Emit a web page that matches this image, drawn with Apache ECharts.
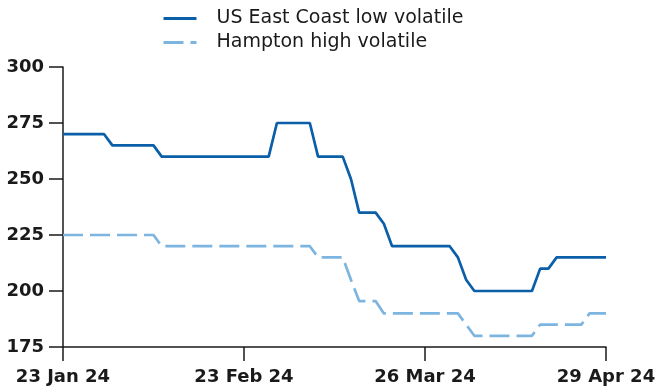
<!DOCTYPE html>
<html>
<head>
    <meta charset="UTF-8">
    <script src="https://cdn.jsdelivr.net/npm/echarts@6/dist/echarts.min.js"></script>
    <style>
        body { margin: 0; background: #fff; }
        #chart { width: 655px; height: 387px; }
    </style>
</head>
<body>
<div id="chart"></div>
<script>
    // trading days (some holidays missing)
    const dates = [
        '23 Jan 24', '24 Jan 24', '25 Jan 24', '26 Jan 24', '29 Jan 24', '30 Jan 24', '31 Jan 24',
        '1 Feb 24', '2 Feb 24', '5 Feb 24', '6 Feb 24', '7 Feb 24', '8 Feb 24', '9 Feb 24',
        '12 Feb 24', '13 Feb 24', '14 Feb 24', '15 Feb 24', '16 Feb 24',
        '20 Feb 24', '21 Feb 24', '22 Feb 24', '23 Feb 24',
        '26 Feb 24', '27 Feb 24', '28 Feb 24', '29 Feb 24', '1 Mar 24',
        '4 Mar 24', '5 Mar 24', '6 Mar 24', '7 Mar 24', '8 Mar 24',
        '11 Mar 24', '12 Mar 24', '13 Mar 24', '14 Mar 24', '15 Mar 24',
        '18 Mar 24', '19 Mar 24', '20 Mar 24', '21 Mar 24', '22 Mar 24',
        '25 Mar 24', '26 Mar 24', '27 Mar 24', '28 Mar 24',
        '2 Apr 24', '3 Apr 24', '4 Apr 24', '5 Apr 24',
        '8 Apr 24', '9 Apr 24', '10 Apr 24', '11 Apr 24', '12 Apr 24',
        '15 Apr 24', '16 Apr 24', '17 Apr 24', '18 Apr 24', '19 Apr 24',
        '22 Apr 24', '23 Apr 24', '24 Apr 24', '25 Apr 24', '26 Apr 24',
        '29 Apr 24'
    ];

    const usEastCoast = [
        270, 270, 270, 270, 270, 270,
        265, 265, 265, 265, 265, 265,
        260, 260, 260, 260, 260, 260, 260, 260, 260, 260, 260, 260, 260, 260,
        275, 275, 275, 275, 275,
        260, 260, 260, 260,
        250,
        235, 235, 235,
        230,
        220, 220, 220, 220, 220, 220, 220, 220,
        215,
        205,
        200, 200, 200, 200, 200, 200, 200, 200,
        210, 210,
        215, 215, 215, 215, 215, 215, 215
    ];

    const hampton = [
        225, 225, 225, 225, 225, 225, 225, 225, 225, 225, 225, 225,
        220, 220, 220, 220, 220, 220, 220, 220, 220, 220, 220, 220, 220, 220, 220, 220, 220, 220, 220,
        215, 215, 215, 215,
        205,
        195.5, 195.5, 195.5,
        190, 190, 190, 190, 190, 190, 190, 190, 190, 190,
        185,
        180, 180, 180, 180, 180, 180, 180, 180,
        185, 185, 185, 185, 185, 185,
        190, 190, 190
    ];

    const chart = echarts.init(document.getElementById('chart'));

    const font = 'DejaVu Sans';
    const axisColor = '#1a1a1a';

    chart.setOption({
        animation: false,
        legend: {
            orient: 'vertical',
            left: 157,
            top: 4,
            itemWidth: 33,
            itemHeight: 14,
            itemGap: 5,
            itemStyle: { opacity: 0 },
            lineStyle: { width: 3 },
            textStyle: {
                fontFamily: font,
                fontSize: 19,
                color: '#1a1a1a',
                padding: [0, 0, 0, 15]
            }
        },
        grid: {
            left: 63,
            right: 49,
            top: 67,
            bottom: 40,
            outerBoundsMode: 'none'
        },
        xAxis: {
            type: 'category',
            data: dates,
            boundaryGap: false,
            axisLine: { lineStyle: { color: axisColor, width: 1.5 } },
            axisTick: {
                interval: 21,
                length: 14,
                lineStyle: { color: axisColor, width: 1.5 }
            },
            axisLabel: {
                interval: 21,
                margin: 21,
                fontFamily: font,
                fontWeight: 'bold',
                fontSize: 18,
                color: '#1a1a1a'
            }
        },
        yAxis: {
            type: 'value',
            min: 175,
            max: 300,
            interval: 25,
            splitLine: { show: false },
            axisLine: { show: true, lineStyle: { color: axisColor, width: 1.5 } },
            axisTick: {
                show: true,
                length: 14,
                lineStyle: { color: axisColor, width: 1.5 }
            },
            axisLabel: {
                margin: 19,
                fontFamily: font,
                fontWeight: 'bold',
                fontSize: 18,
                color: '#1a1a1a'
            }
        },
        series: [
            {
                name: 'US East Coast low volatile',
                type: 'line',
                data: usEastCoast,
                symbol: 'none',
                lineStyle: { color: '#0b5ea8', width: 2.7 },
                itemStyle: { color: '#0b5ea8' }
            },
            {
                name: 'Hampton high volatile',
                type: 'line',
                data: hampton,
                symbol: 'none',
                lineStyle: { color: '#7db5e1', width: 2.7, type: [20, 7] },
                itemStyle: { color: '#7db5e1' }
            }
        ]
    });
</script>
</body>
</html>
